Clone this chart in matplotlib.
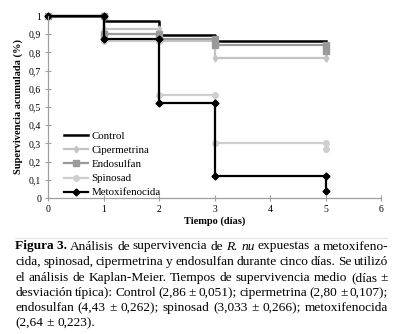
import matplotlib
matplotlib.use("Agg")
import matplotlib.pyplot as plt
from matplotlib.ticker import FuncFormatter

plt.rcParams['font.family'] = ['Liberation Serif', 'DejaVu Serif']

# ---- data ----
series_names = ["Control", "Cipermetrina", "Endosulfan", "Spinosad", "Metoxifenocida"]
control_t = [0, 1, 2, 3, 5]
control_s = [1.0, 0.97, 0.895, 0.865, 0.865]
ciper_t = [0, 1, 2, 3, 5]
ciper_s = [1.0, 0.93, 0.865, 0.77, 0.77]
endo_t = [0, 1, 2, 3, 5]
endo_s = [1.0, 0.90, 0.875, 0.84, 0.805]
spino_t = [0, 1, 2, 3, 5]
spino_s = [1.0, 0.865, 0.565, 0.30, 0.27]
metox_t = [0, 1, 2, 3, 5]
metox_s = [1.0, 0.875, 0.52, 0.12, 0.04]
x_ticks = [0, 1, 2, 3, 4, 5, 6]
y_ticks = [0, 0.1, 0.2, 0.3, 0.4, 0.5, 0.6, 0.7, 0.8, 0.9, 1.0]

caption_lines = [
    [("Figura 3.", "bold"), ("Análisis", "n"), ("de", "n"), ("supervivencia", "n"), ("de", "n"),
     ("R.", "it"), ("nu", "it"), ("expuestas", "n"), ("a", "n"), ("metoxifeno-", "n")],
    [(w, "n") for w in "cida, spinosad, cipermetrina y endosulfan durante cinco días. Se utilizó".split(" ")],
    [(w, "n") for w in "el análisis de Kaplan-Meier. Tiempos de supervivencia medio (días ±".split(" ")],
    [(w, "n") for w in "desviación típica): Control (2,86 ± 0,051); cipermetrina (2,80 ± 0,107);".split(" ")],
    [(w, "n") for w in "endosulfan (4,43 ± 0,262); spinosad (3,033 ± 0,266); metoxifenocida".split(" ")],
    [(w, "n") for w in "(2,64 ± 0,223).".split(" ")],
]


def km_steps(t, s):
    xs, ys = [t[0]], [s[0]]
    for i in range(1, len(t)):
        xs.append(t[i]); ys.append(s[i - 1])
        xs.append(t[i]); ys.append(s[i])
    return xs, ys


W, H = 400, 334
fig = plt.figure(figsize=(W / 100, H / 100), dpi=100)
ax = fig.add_axes([48 / W, 1 - 198 / H, 333 / W, 182 / H])

styles = [
    (control_t, control_s, dict(color="black", lw=1.8, marker=None)),
    (ciper_t, ciper_s, dict(color="#c4c4c4", lw=1.6, marker="d", ms=3.5)),
    (endo_t, endo_s, dict(color="#9a9a9a", lw=1.6, marker="s", ms=4)),
    (spino_t, spino_s, dict(color="#cfcfcf", lw=1.6, marker="o", ms=4)),
    (metox_t, metox_s, dict(color="black", lw=1.6, marker="D", ms=3.5)),
]
for name, (t, s, st) in zip(series_names, styles):
    xs, ys = km_steps(t, s)
    ax.plot(xs, ys, label=name, clip_on=False, **st)

ax.set_xlim(0, 6)
ax.set_ylim(0, 1)
ax.set_xticks(x_ticks)
ax.set_yticks(y_ticks)
ax.yaxis.set_major_formatter(FuncFormatter(lambda v, p: ("%g" % round(v, 1)).replace(".", ",")))
for sp in ["top", "right"]:
    ax.spines[sp].set_visible(False)
for sp in ["left", "bottom"]:
    ax.spines[sp].set_color("#a0a0a0")
    ax.spines[sp].set_linewidth(0.9)
ax.tick_params(direction="inout", length=4, width=0.8, color="#a0a0a0", labelsize=7, pad=3)
ax.set_xlabel("Tiempo (días)", fontsize=7.5, fontweight="bold", labelpad=2)
ax.set_ylabel("Supervivencia acumulada (%)", fontsize=7.5, fontweight="bold", labelpad=4)

ax.legend(loc="upper left", bbox_to_anchor=(0.035, 0.39), frameon=False, fontsize=7.8,
          handlelength=2.2, handletextpad=0.35, labelspacing=0.42, borderaxespad=0)

# separator line
fig.add_artist(plt.Line2D([15 / W, 387 / W], [1 - 238 / H, 1 - 238 / H], color="#e6e6e6", lw=1))

# justified caption
renderer = fig.canvas.get_renderer()
left, right = 15, 388
base_y = [249.5, 265, 281, 296, 311, 326]
fs = 9.6
for li, (line, by) in enumerate(zip(caption_lines, base_y)):
    texts = []
    for w, sty in line:
        kw = {}
        if sty == "bold":
            kw["fontweight"] = "bold"
        elif sty == "it":
            kw["fontstyle"] = "italic"
        tt = fig.text(0, 1 - by / H, w, fontsize=fs, va="baseline", ha="left", color="black", **kw)
        texts.append(tt)
    widths = [tt.get_window_extent(renderer).width for tt in texts]
    if li < len(caption_lines) - 1:
        gap = (right - left - sum(widths)) / (len(texts) - 1)
    else:
        sp = fig.text(0, 0, "a b", fontsize=fs)
        sp2 = fig.text(0, 0, "ab", fontsize=fs)
        gap = sp.get_window_extent(renderer).width - sp2.get_window_extent(renderer).width
        sp.remove(); sp2.remove()
    x = left
    for tt, wd in zip(texts, widths):
        tt.set_x(x / W)
        x += wd + gap

fig.savefig("out.png", dpi=100)
